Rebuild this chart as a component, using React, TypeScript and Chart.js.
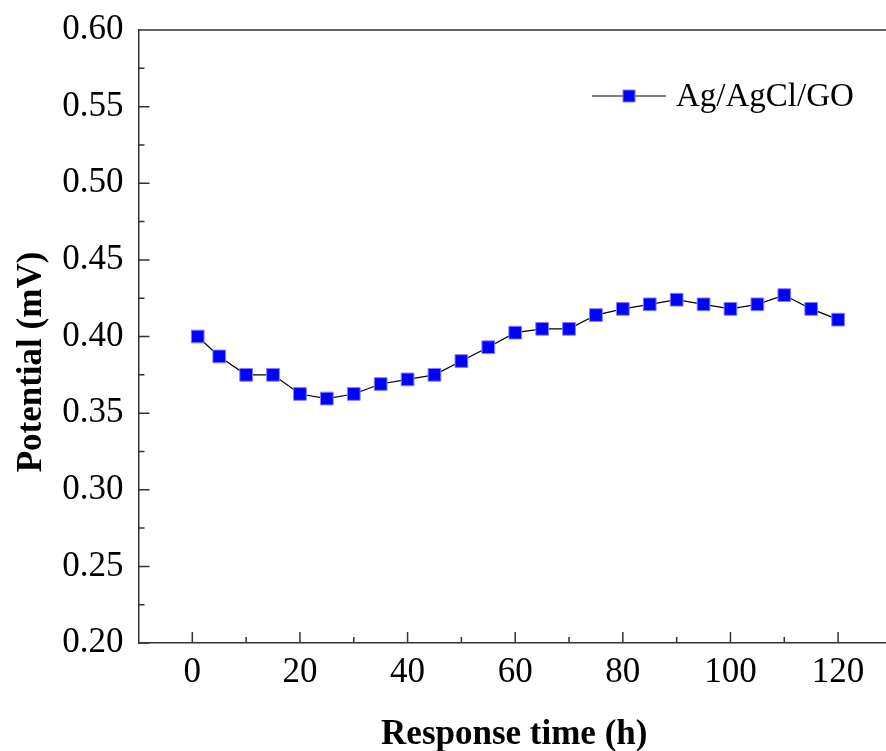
import React, { useEffect, useRef } from "react";
import { Chart, registerables } from "chart.js";

Chart.register(...registerables);

const timeH = [1, 5, 10, 15, 20, 25, 30, 35, 40, 45, 50, 55, 60, 65, 70, 75, 80, 85, 90, 95, 100, 105, 110, 115, 120];
const potential = [0.400, 0.387, 0.375, 0.375, 0.3625, 0.3595, 0.3625, 0.369, 0.372, 0.375, 0.384, 0.393, 0.4025, 0.405, 0.405, 0.414, 0.418, 0.421, 0.424, 0.421, 0.418, 0.421, 0.427, 0.418, 0.411];
const seriesName = "Ag/AgCl/GO";
const xTicks = [0, 20, 40, 60, 80, 100, 120];
const xMinor = [10, 30, 50, 70, 90, 110];
const yTicks = [0.2, 0.25, 0.3, 0.35, 0.4, 0.45, 0.5, 0.55, 0.6];
const yMinor = [0.225, 0.275, 0.325, 0.375, 0.425, 0.475, 0.525, 0.575];
const xTitle = "Response time (h)";
const yTitle = "Potential (mV)";

const SERIF = "'Liberation Serif', 'Times New Roman', serif";
const AXIS_COLOR = "#333";

const framePlugin = {
  id: "frame",
  afterDatasetsDraw(chart: any) {
    const { ctx, chartArea, scales } = chart;
    const x = scales.x;
    const y = scales.y;
    ctx.save();
    ctx.strokeStyle = AXIS_COLOR;
    ctx.lineWidth = 1.5;
    ctx.beginPath();
    // top frame line
    ctx.moveTo(chartArea.left, chartArea.top);
    ctx.lineTo(chartArea.right, chartArea.top);
    // inward ticks on y axis
    for (const v of yTicks) {
      const py = y.getPixelForValue(v);
      ctx.moveTo(chartArea.left, py);
      ctx.lineTo(chartArea.left + 11, py);
    }
    for (const v of yMinor) {
      const py = y.getPixelForValue(v);
      ctx.moveTo(chartArea.left, py);
      ctx.lineTo(chartArea.left + 6, py);
    }
    for (const v of xTicks) {
      const px = x.getPixelForValue(v);
      ctx.moveTo(px, chartArea.bottom);
      ctx.lineTo(px, chartArea.bottom - 11);
    }
    for (const v of xMinor) {
      const px = x.getPixelForValue(v);
      ctx.moveTo(px, chartArea.bottom);
      ctx.lineTo(px, chartArea.bottom - 6);
    }
    ctx.stroke();

    // axis titles
    ctx.fillStyle = "#000";
    ctx.font = `bold 35px ${SERIF}`;
    ctx.textAlign = "center";
    ctx.textBaseline = "alphabetic";
    ctx.fillText(xTitle, (chartArea.left + chartArea.right) / 2 + 2, 744);
    ctx.save();
    ctx.translate(41, 362);
    ctx.rotate(-Math.PI / 2);
    ctx.fillText(yTitle, 0, 0);
    ctx.restore();

    // legend
    const ds = chart.data.datasets[0];
    const ly = 96;
    ctx.strokeStyle = ds.borderColor;
    ctx.lineWidth = 1.2;
    ctx.beginPath();
    ctx.moveTo(592, ly);
    ctx.lineTo(666, ly);
    ctx.stroke();
    ctx.fillStyle = ds.pointBackgroundColor;
    ctx.fillRect(623, ly - 6, 12, 12);
    ctx.strokeStyle = ds.pointBorderColor;
    ctx.lineWidth = 1;
    ctx.strokeRect(623, ly - 6, 12, 12);
    ctx.fillStyle = "#000";
    ctx.font = `33px ${SERIF}`;
    ctx.textAlign = "left";
    ctx.textBaseline = "middle";
    ctx.fillText(ds.label, 676, ly + 1);
    ctx.restore();
  },
};

export default function App() {
  const ref = useRef<HTMLCanvasElement>(null);
  useEffect(() => {
    document.body.style.margin = "0";
    const canvas = ref.current!;
    const chart = new Chart(canvas, {
      type: "line",
      data: {
        datasets: [
          {
            label: seriesName,
            data: timeH.map((t, i) => ({ x: t, y: potential[i] })),
            borderColor: "#000",
            borderWidth: 1.2,
            pointStyle: "rect",
            pointRadius: 9,
            pointHoverRadius: 9,
            pointBackgroundColor: "#0000ff",
            pointBorderColor: "#8080ff",
            pointBorderWidth: 1,
            tension: 0,
          },
        ],
      },
      options: {
        animation: false,
        responsive: false,
        layout: { autoPadding: false, padding: { top: 30, right: 0, left: 0, bottom: 0 } },
        plugins: { legend: { display: false }, tooltip: { enabled: false } },
        scales: {
          x: {
            type: "linear",
            min: -10,
            max: 128.9,
            afterBuildTicks: (s: any) => {
              s.ticks = xTicks.map((v) => ({ value: v }));
            },
            afterFit: (s: any) => {
              s.height = 108;
              s.paddingLeft = 0;
              s.paddingRight = 0;
            },
            grid: { display: true, drawOnChartArea: false, drawTicks: false, color: "transparent" },
            border: { display: true, color: AXIS_COLOR, width: 1.5 },
            ticks: {
              font: { family: SERIF, size: 35 },
              color: "#000",
              padding: 9,
              maxRotation: 0,
              autoSkip: false,
            },
          },
          y: {
            type: "linear",
            min: 0.2,
            max: 0.6,
            afterBuildTicks: (s: any) => {
              s.ticks = yTicks.map((v) => ({ value: v }));
            },
            afterFit: (s: any) => {
              s.width = 138.5;
              s.paddingTop = 0;
              s.paddingBottom = 0;
            },
            grid: { display: true, drawOnChartArea: false, drawTicks: false, color: "transparent" },
            border: { display: true, color: AXIS_COLOR, width: 1.5 },
            ticks: {
              font: { family: SERIF, size: 35 },
              color: "#000",
              padding: 15,
              callback: (v: any) => Number(v).toFixed(2),
            },
          },
        },
      },
      plugins: [framePlugin],
    });
    return () => chart.destroy();
  }, []);
  return <canvas ref={ref} width={886} height={751} style={{ display: "block" }} />;
}
